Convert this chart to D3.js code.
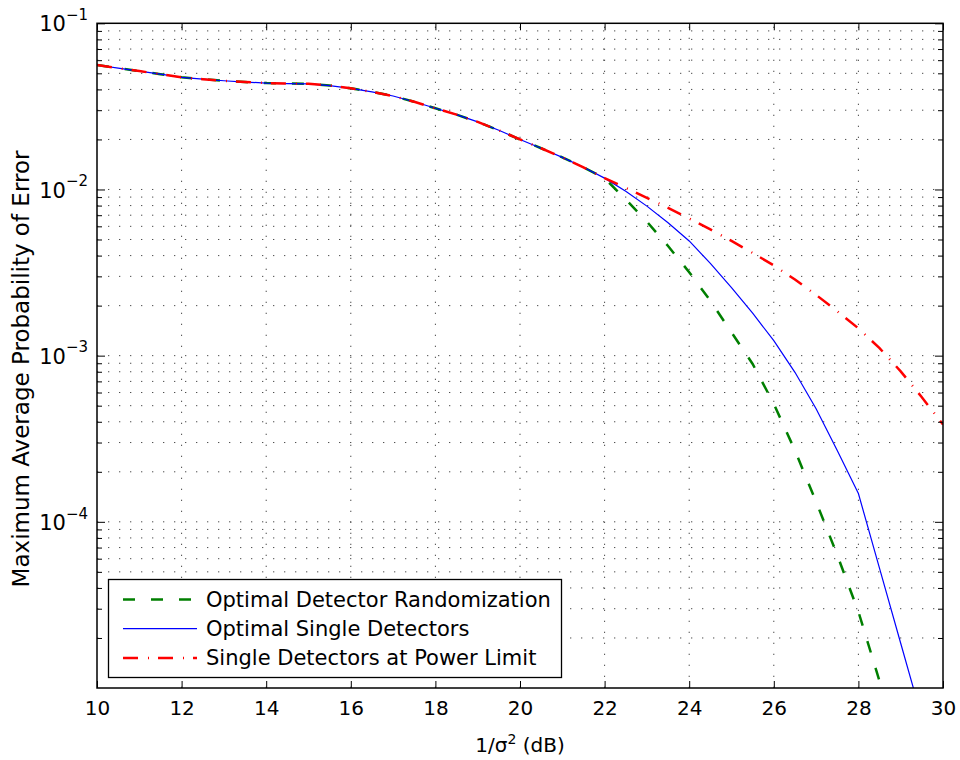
<!DOCTYPE html>
<html>
<head>
<meta charset="utf-8">
<script src="https://cdn.jsdelivr.net/npm/d3@7"></script>
<style>
  body { margin: 0; background: #fff; }
  svg text { font-family: "DejaVu Sans", "Liberation Sans", sans-serif; fill: #000; }
</style>
</head>
<body>
<div id="chart"></div>
<script>
// SNR in dB, half-dB steps
let snr = [10, 10.5, 11, 11.5, 12, 12.5, 13, 13.5, 14, 14.5, 15, 15.5, 16, 16.5, 17, 17.5, 18, 18.5, 19, 19.5,
           20, 20.5, 21, 21.5, 22, 22.5, 23, 23.5, 24, 24.5, 25, 25.5, 26, 26.5, 27, 27.5, 28, 28.5, 29, 29.5, 30]

// the three curves coincide up to 22 dB
let common = [0.0561, 0.0537, 0.0516, 0.0494, 0.0473, 0.0461, 0.0451, 0.0443, 0.0437, 0.0434, 0.0432, 0.0422,
              0.0406, 0.0387, 0.0365, 0.0337, 0.0308, 0.0282, 0.0255, 0.0227, 0.0200, 0.0177, 0.0156, 0.0136, 0.0117]

// 22.5 .. 30 dB (values under 1e-5 get clipped)
let randomizationTail = [0.00871, 0.00640, 0.00457, 0.00318, 0.00214, 0.00138, 0.000891, 0.000513, 0.000269,
                         0.000132, 0.0000631, 0.0000288, 0.0000110, 0.00000398, 0.00000145, 0.0000005]
let singleDetTail = [0.00977, 0.00794, 0.00631, 0.00490, 0.00359, 0.00257, 0.00180, 0.00123, 0.000794,
                     0.000479, 0.000269, 0.000148, 0.0000525, 0.0000186, 0.0000066, 0.00000234]
let powerLimitTail = [0.01023, 0.00891, 0.00776, 0.00668, 0.00575, 0.00490, 0.00415, 0.00349, 0.00287,
                      0.00232, 0.00185, 0.00146, 0.00111, 0.000804, 0.000562, 0.000385]

let seriesNames = ["Optimal Detector Randomization", "Optimal Single Detectors", "Single Detectors at Power Limit"]
let xTicks = [10, 12, 14, 16, 18, 20, 22, 24, 26, 28, 30]
let yTicks = [1e-4, 1e-3, 1e-2, 1e-1]
let yExp = ["\u22124", "\u22123", "\u22122", "\u22121"]

let series = [
  {name: seriesNames[0], values: common.concat(randomizationTail), color: "#007f00", width: 2.5, dash: "12,16"},
  {name: seriesNames[1], values: common.concat(singleDetTail), color: "#0000ff", width: 1.2, dash: null},
  {name: seriesNames[2], values: common.concat(powerLimitTail), color: "#ff0000", width: 2.5, dash: "15,10,1,9"}
]

let w = 960, h = 760
let mLeft = 97, mRight = 943, mTop = 23.3, mBottom = 688

let x = d3.scaleLinear().domain([10, 30]).range([mLeft, mRight])
let y = d3.scaleLog().domain([1e-5, 1e-1]).range([mBottom, mTop])

// minor ticks of the log axis: 2..9 in every decade
let yMinor = []
for (let k = -5; k < -1; k++) {
  for (let m = 2; m <= 9; m++) yMinor.push(m * Math.pow(10, k))
}

let svg = d3.select("#chart")
            .append("svg")
            .attr("width", w)
            .attr("height", h)

// dotted grid
let grid = svg.append("g").attr("stroke", "#000").attr("stroke-width", 1)
              .attr("stroke-dasharray", "1.3,9.7").attr("opacity", 0.7)

grid.selectAll("line.gx")
    .data(xTicks.slice(1, -1))
    .enter()
    .append("line")
    .attr("class", "gx")
    .attr("x1", d => x(d)).attr("x2", d => x(d))
    .attr("y1", mBottom).attr("y2", mTop)

grid.selectAll("line.gy")
    .data(yTicks.slice(0, -1).concat(yMinor))
    .enter()
    .append("line")
    .attr("class", "gy")
    .attr("x1", mLeft).attr("x2", mRight)
    .attr("y1", d => y(d)).attr("y2", d => y(d))

// data lines, clipped to the axes box
svg.append("clipPath").attr("id", "clip")
   .append("rect")
   .attr("x", mLeft).attr("y", mTop)
   .attr("width", mRight - mLeft).attr("height", mBottom - mTop)

let line = d3.line()
             .x((d, i) => x(snr[i]))
             .y(d => y(d))

svg.append("g")
   .attr("clip-path", "url(#clip)")
   .selectAll("path")
   .data(series)
   .enter()
   .append("path")
   .attr("fill", "none")
   .attr("stroke", d => d.color)
   .attr("stroke-width", d => d.width)
   .attr("stroke-dasharray", d => d.dash)
   .attr("d", d => line(d.values))

// axes with inward ticks on all four sides
let fontSize = 20

let xAxis = svg.append("g")
               .attr("transform", "translate(0," + mBottom + ")")
               .call(d3.axisBottom(x).tickValues(xTicks).tickSizeInner(-7).tickSizeOuter(0).tickPadding(13).tickFormat(d3.format("d")))
xAxis.selectAll("text").attr("font-size", fontSize)

svg.append("g")
   .attr("transform", "translate(0," + mTop + ")")
   .call(d3.axisTop(x).tickValues(xTicks).tickSizeInner(-7).tickSizeOuter(0).tickFormat(""))

let yAxis = svg.append("g")
               .attr("transform", "translate(" + mLeft + ",0)")
               .call(d3.axisLeft(y).tickValues(yTicks).tickSizeInner(-8).tickSizeOuter(0).tickPadding(9))
yAxis.selectAll("text")
     .attr("font-size", 21)
     .attr("dy", "0.36em")
     .text("10")
     .append("tspan")
     .attr("font-size", 15)
     .attr("dy", "-0.75em")
     .text(d => yExp[yTicks.indexOf(d)])

svg.append("g")
   .attr("transform", "translate(" + mLeft + ",0)")
   .call(d3.axisLeft(y).tickValues(yMinor).tickSizeInner(-5).tickSizeOuter(0).tickFormat(""))

svg.append("g")
   .attr("transform", "translate(" + mRight + ",0)")
   .call(d3.axisRight(y).tickValues(yTicks).tickSizeInner(-8).tickSizeOuter(0).tickFormat(""))

svg.append("g")
   .attr("transform", "translate(" + mRight + ",0)")
   .call(d3.axisRight(y).tickValues(yMinor).tickSizeInner(-5).tickSizeOuter(0).tickFormat(""))

svg.selectAll(".domain").remove()
svg.selectAll(".tick line").attr("stroke", "#000").attr("stroke-width", 1)

// box
svg.append("rect")
   .attr("x", mLeft).attr("y", mTop)
   .attr("width", mRight - mLeft).attr("height", mBottom - mTop)
   .attr("fill", "none")
   .attr("stroke", "#000")
   .attr("stroke-width", 1.5)

// axis titles
let xTitle = svg.append("text")
                .attr("x", (mLeft + mRight) / 2)
                .attr("y", 752)
                .attr("text-anchor", "middle")
                .attr("font-size", fontSize)
xTitle.append("tspan").text("1/\u03c3")
xTitle.append("tspan").attr("font-size", 14).attr("dy", -8).text("2")
xTitle.append("tspan").attr("dy", 8).text(" (dB)")

svg.append("text")
   .attr("transform", "translate(29,369) rotate(-90)")
   .attr("text-anchor", "middle")
   .attr("font-size", 23)
   .text("Maximum Average Probability of Error")

// legend
let legend = svg.append("g")

legend.append("rect")
      .attr("x", 108.5).attr("y", 579.5)
      .attr("width", 453).attr("height", 98)
      .attr("fill", "#fff")
      .attr("stroke", "#000")
      .attr("stroke-width", 1.3)

let rows = legend.selectAll("g.row")
                 .data(series)
                 .enter()
                 .append("g")
                 .attr("class", "row")
                 .attr("transform", (d, i) => "translate(0," + (599.5 + i * 29.2) + ")")

rows.append("line")
    .attr("x1", 123).attr("x2", 197)
    .attr("stroke", d => d.color)
    .attr("stroke-width", d => d.width)
    .attr("stroke-dasharray", d => d.dash)

rows.append("text")
    .attr("x", 206)
    .attr("dy", "0.36em")
    .attr("font-size", 21)
    .text(d => d.name)
</script>
</body>
</html>
